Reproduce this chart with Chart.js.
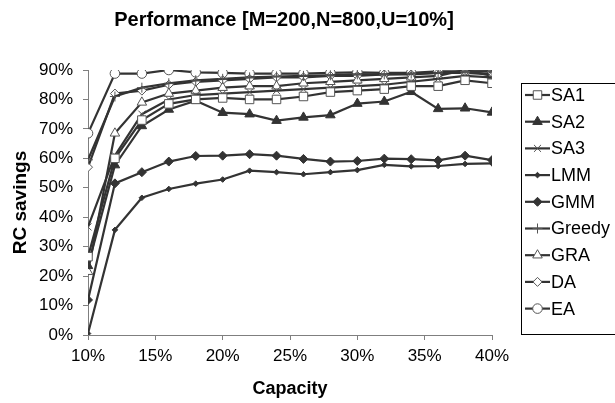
<!DOCTYPE html>
<html>
<head>
<meta charset="utf-8">
<script src="https://cdn.jsdelivr.net/npm/chart.js@4/dist/chart.umd.min.js"></script>
<style>
  html, body { margin: 0; padding: 0; background: #fff; }
  #wrap { width: 615px; height: 403px; position: relative; }
</style>
</head>
<body>
<div id="wrap"><canvas id="c" width="615" height="403"></canvas></div>
<script>
// ---- Data ----
const titleText = 'Performance [M=200,N=800,U=10%]';
const xTitle = 'Capacity';
const yTitle = 'RC savings';
const capacity = [10, 12, 14, 16, 18, 20, 22, 24, 26, 28, 30, 32, 34, 36, 38, 40];
const seriesNames = ['SA1', 'SA2', 'SA3', 'LMM', 'GMM', 'Greedy', 'GRA', 'DA', 'EA'];
const SA1    = [26.6, 60.0, 73.0, 78.5, 80.0, 80.5, 80.0, 80.0, 81.0, 82.5, 83.0, 83.5, 84.5, 84.5, 86.5, 85.5];
const SA2    = [23.5, 57.7, 71.0, 76.6, 79.6, 75.5, 75.0, 72.8, 73.9, 74.7, 78.6, 79.3, 82.6, 76.8, 77.0, 75.6];
const SA3    = [36.7, 61.0, 75.0, 80.0, 81.5, 82.0, 82.5, 83.0, 83.5, 84.0, 84.5, 85.0, 86.0, 87.0, 88.0, 87.5];
const LMM    = [0.5, 35.7, 46.6, 49.6, 51.4, 52.8, 55.8, 55.3, 54.6, 55.3, 56.0, 57.8, 57.3, 57.4, 58.1, 58.3];
const GMM    = [11.9, 51.5, 55.3, 58.9, 60.8, 60.9, 61.4, 60.9, 59.8, 58.9, 59.1, 59.9, 59.7, 59.3, 60.9, 59.4];
const Greedy = [59.5, 81.0, 84.0, 85.5, 86.5, 87.0, 87.5, 87.8, 88.0, 88.2, 88.5, 88.5, 88.8, 89.0, 89.5, 89.5];
const GRA    = [21.5, 68.5, 79.0, 82.0, 83.0, 84.0, 84.5, 84.5, 85.5, 86.0, 86.5, 87.0, 87.5, 88.0, 90.0, 88.0];
const DA     = [57.0, 82.0, 83.0, 85.0, 86.0, 86.5, 87.0, 87.5, 87.5, 88.0, 88.0, 88.5, 88.5, 89.0, 89.0, 88.5];
const EA     = [68.5, 88.8, 88.8, 90.0, 89.2, 89.0, 88.8, 88.8, 88.8, 89.0, 89.2, 89.0, 89.0, 89.5, 89.5, 89.5];
const xTicks = [10, 15, 20, 25, 30, 35, 40];
const yTicks = [0, 10, 20, 30, 40, 50, 60, 70, 80, 90];

// ---- Styles ----
const FONT = "'Liberation Sans', Arial, sans-serif";
const LINE = '#333333';
const AXIS = '#7f7f7f';
const styles = {
  SA1:    { pointStyle: 'rect',      radius: 6,   fill: '#ffffff', border: '#555555' },
  SA2:    { pointStyle: 'triangle',  radius: 5.5, fill: LINE,      border: LINE },
  SA3:    { pointStyle: 'crossRot',  radius: 5,   fill: LINE,      border: '#555555' },
  LMM:    { pointStyle: 'rectRot',   radius: 2.8, fill: LINE,      border: LINE },
  GMM:    { pointStyle: 'rectRot',   radius: 4.5, fill: LINE,      border: LINE },
  Greedy: { pointStyle: 'cross',     radius: 5,   fill: LINE,      border: '#555555' },
  GRA:    { pointStyle: 'triangle',  radius: 5.5, fill: '#ffffff', border: '#555555' },
  DA:     { pointStyle: 'rectRot',   radius: 4.5, fill: '#ffffff', border: '#555555' },
  EA:     { pointStyle: 'circle',    radius: 4.8, fill: '#ffffff', border: '#555555' }
};
const values = { SA1, SA2, SA3, LMM, GMM, Greedy, GRA, DA, EA };

const datasets = seriesNames.map(name => ({
  label: name,
  data: capacity.map((c, i) => ({ x: c, y: values[name][i] })),
  borderColor: LINE,
  borderWidth: 2.2,
  pointStyle: styles[name].pointStyle,
  pointRadius: styles[name].radius,
  pointHoverRadius: styles[name].radius,
  pointBackgroundColor: styles[name].fill,
  pointBorderColor: styles[name].border,
  pointBorderWidth: 1,
  fill: false,
  tension: 0
}));

function drawMarker(ctx, st, x, y) {
  ctx.save();
  ctx.fillStyle = st.fill;
  ctx.strokeStyle = st.border;
  ctx.lineWidth = 1;
  Chart.helpers.drawPoint(ctx, { pointStyle: st.pointStyle, radius: st.radius, rotation: 0, borderWidth: 1 }, x, y);
  ctx.restore();
}

const decorPlugin = {
  id: 'decor',
  afterDraw(chart) {
    const ctx = chart.ctx;
    ctx.save();
    // Title
    ctx.fillStyle = '#000';
    ctx.font = 'bold 20px ' + FONT;
    ctx.textAlign = 'center';
    ctx.textBaseline = 'middle';
    ctx.fillText(titleText, 284, 20);
    // Legend box
    const bx = 521, by = 83, bw = 100, bh = 251;
    ctx.strokeStyle = '#000';
    ctx.lineWidth = 1;
    ctx.strokeRect(bx + 0.5, by + 0.5, bw, bh);
    ctx.font = '18px ' + FONT;
    ctx.textAlign = 'left';
    ctx.textBaseline = 'middle';
    seriesNames.forEach((name, i) => {
      const y = 95 + i * 26.7;
      ctx.strokeStyle = LINE;
      ctx.lineWidth = 2.2;
      ctx.beginPath();
      ctx.moveTo(525, y);
      ctx.lineTo(550, y);
      ctx.stroke();
      drawMarker(ctx, styles[name], 537.5, y);
      ctx.fillStyle = '#000';
      ctx.fillText(name, 551, y + 1);
    });
    ctx.restore();
  }
};

new Chart(document.getElementById('c'), {
  type: 'line',
  data: { datasets },
  plugins: [decorPlugin],
  options: {
    responsive: false,
    animation: false,
    devicePixelRatio: 1,
    layout: { padding: { top: 70, right: 123, left: 0, bottom: 0 } },
    plugins: { legend: { display: false }, title: { display: false }, tooltip: { enabled: false } },
    scales: {
      x: {
        type: 'linear',
        min: 10, max: 40,
        afterFit(scale) { scale.height = 68; },
        afterBuildTicks(scale) { scale.ticks = xTicks.map(v => ({ value: v })); },
        ticks: { callback: v => v + '%', color: '#000', font: { family: FONT, size: 17 }, padding: 6, maxRotation: 0, autoSkip: false },
        grid: { display: true, drawOnChartArea: false, drawTicks: true, tickLength: 5, color: AXIS },
        border: { display: true, color: AXIS, width: 1 },
        title: { display: true, text: xTitle, color: '#000', font: { family: FONT, size: 18, weight: 'bold' }, padding: { top: 0, bottom: 3 } }
      },
      y: {
        type: 'linear',
        min: 0, max: 90,
        afterFit(scale) { scale.width = 88; },
        afterBuildTicks(scale) { scale.ticks = yTicks.map(v => ({ value: v })); },
        ticks: { callback: v => v + '%', color: '#000', font: { family: FONT, size: 17 }, padding: 10, autoSkip: false },
        grid: { display: true, drawOnChartArea: false, drawTicks: true, tickLength: 5, color: AXIS },
        border: { display: true, color: AXIS, width: 1 },
        title: { display: true, text: yTitle, color: '#000', font: { family: FONT, size: 19, weight: 'bold' }, padding: { top: 9, bottom: 0 } }
      }
    }
  }
});
</script>
</body>
</html>
